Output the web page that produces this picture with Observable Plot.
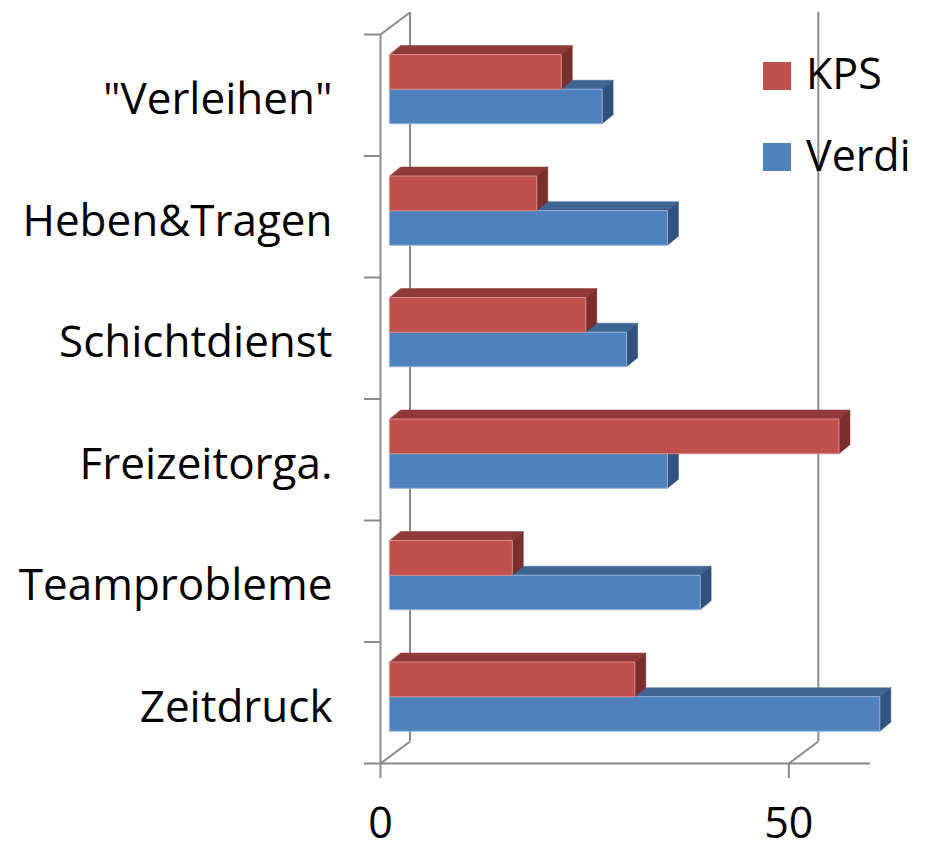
<!DOCTYPE html>
<html><head><meta charset="utf-8">
<script src="https://cdn.jsdelivr.net/npm/d3@7"></script>
<script src="https://cdn.jsdelivr.net/npm/@observablehq/plot@0.6"></script>
<style>
body{margin:0;background:#fff;}
#wrap{position:relative;width:927px;height:850px;background:#fff;}
.lg{position:absolute;font-family:"Open Sans",sans-serif;font-size:43px;line-height:43px;color:#000;white-space:nowrap;}
.sw{position:absolute;width:28px;height:28px;}
</style></head><body><div id="wrap"></div>
<script>
// Data (categories listed bottom to top)
const categories = ['Zeitdruck', 'Teamprobleme', 'Freizeitorga.', 'Schichtdienst', 'Heben&Tragen', '"Verleihen"'];
const kps   = [30, 15, 55, 24, 18, 21];
const verdi = [60, 38, 34, 29, 34, 26];
const seriesNames = ['KPS', 'Verdi'];
const xTicks = [0, 50];
const xMax = 60;

// Layout
const W = 927, H = 850, mL = 380, mR = 57, mT = 34, mB = 87;
const pxX = (W - mL - mR) / xMax;
const pxY = (H - mT - mB) / categories.length;
const gray = "#8a8a8a";
const colors = {
  KPS:   {front: "#C0504D", top: "#8F3A38", side: "#7B2F2D", edge: "#d88a88"},
  Verdi: {front: "#4F81BD", top: "#3F6593", side: "#31527F", edge: "#8fb0d8"}
};
// 3D depths (pixels) converted to data units
const wallDX = 29.5, wallDY = 22;
const barDX = 11, barDY = 9, barShift = 9.3;

function faces(values, topPx, botPx, name) {
  const front = [], top = [], side = [];
  const bdx = barDX / pxX, bdy = barDY / pxY;
  values.forEach((v, i) => {
    const yt = i + 1 - topPx / pxY, yb = i + 1 - botPx / pxY;
    const id = name + i;
    front.push({id, x: 0, y: yb}, {id, x: v, y: yb}, {id, x: v, y: yt}, {id, x: 0, y: yt});
    top.push({id, x: 0, y: yt}, {id, x: v, y: yt}, {id, x: v + bdx, y: yt + bdy}, {id, x: bdx, y: yt + bdy});
    side.push({id, x: v, y: yb}, {id, x: v + bdx, y: yb + bdy}, {id, x: v + bdx, y: yt + bdy}, {id, x: v, y: yt});
  });
  return {front, top, side};
}
function barMarks(values, topPx, botPx, name) {
  const f = faces(values, topPx, botPx, name), c = colors[name];
  const o = {x: "x", y: "y", z: "id", curve: "linear-closed", dx: barShift};
  return [
    Plot.line(f.top, {...o, fill: c.top, stroke: c.top, strokeWidth: 0.5}),
    Plot.line(f.side, {...o, fill: c.side, stroke: c.side, strokeWidth: 0.5}),
    Plot.line(f.front, {...o, fill: c.front, stroke: c.edge, strokeWidth: 1})
  ];
}

const nCat = categories.length;
const diagonals = [{x: 0, y: 0}, {x: 0, y: nCat}, {x: xTicks[1], y: 0}];

const chart = Plot.plot({
  width: W, height: H,
  marginLeft: mL, marginRight: mR, marginTop: mT, marginBottom: mB,
  x: {domain: [0, xMax], label: null},
  y: {domain: [0, nCat], label: null},
  style: {fontFamily: "'Open Sans', sans-serif", fontSize: "43px", background: "white", overflow: "visible"},
  marks: [
    // back wall / gridlines
    Plot.ruleX(xTicks, {x: d => d, y1: 0, y2: nCat, dx: wallDX, dy: -wallDY, stroke: gray, strokeWidth: 2}),
    Plot.link(diagonals, {x1: "x", y1: "y", x2: d => d.x + wallDX / pxX, y2: d => d.y + wallDY / pxY, stroke: gray, strokeWidth: 2}),
    // front axes
    Plot.ruleX([0], {y1: 0, y2: nCat, stroke: gray, strokeWidth: 2}),
    Plot.ruleY([0], {x1: 0, x2: xMax, stroke: gray, strokeWidth: 2}),
    Plot.axisY({ticks: d3.range(nCat + 1), tickSize: 16, tickFormat: () => "", label: null, stroke: gray, strokeWidth: 2}),
    Plot.axisX({ticks: xTicks, tickSize: 15, tickFormat: () => "", label: null, stroke: gray, strokeWidth: 2}),
    // bars: Verdi (lower) first, then KPS
    ...barMarks(verdi, 54.7, 89.2, "Verdi"),
    ...barMarks(kps, 20, 54.7, "KPS"),
    // labels
    Plot.text(categories, {x: 0, y: (d, i) => i + 0.5, text: d => d, textAnchor: "end", dx: -48, dy: 5, fontSize: 44, fill: "black"}),
    Plot.text(xTicks, {x: d => d, y: 0, text: d => String(d), lineAnchor: "top", dy: 44, fontSize: 43, fill: "black"})
  ]
});
const wrap = document.getElementById("wrap");
wrap.appendChild(chart);

// Legend overlay
const legendPos = [{sw: 62, tx: 51}, {sw: 143, tx: 132.5}];
seriesNames.forEach((s, i) => {
  const sw = document.createElement("div");
  sw.className = "sw";
  sw.style.left = "763px"; sw.style.top = legendPos[i].sw + "px";
  sw.style.background = colors[s].front;
  wrap.appendChild(sw);
  const t = document.createElement("div");
  t.className = "lg";
  t.style.left = "806px"; t.style.top = legendPos[i].tx + "px";
  t.textContent = s;
  wrap.appendChild(t);
});
</script></body></html>
